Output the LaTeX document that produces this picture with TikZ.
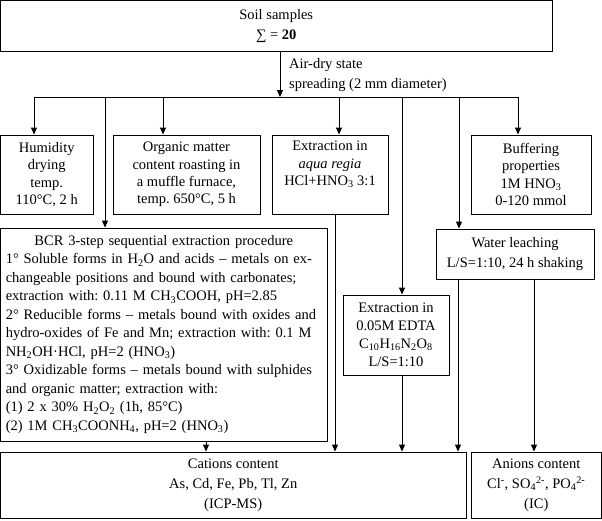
\documentclass[tikz,border=0pt]{standalone}
\usepackage{fontspec}
\setmainfont{Liberation Serif}
\usetikzlibrary{arrows.meta}
\frenchspacing
\begin{document}
\begin{tikzpicture}[x=1pt,y=-1pt,
  box/.style={draw, line width=0.9pt, inner sep=0pt, align=center, font=\fontsize{14.5}{17.3}\selectfont},
  arr/.style={line width=0.9pt, -{Triangle[length=7pt,width=6pt]}},
  ln/.style={line width=0.9pt}]
\useasboundingbox (0,0) rectangle (602,520);

\node[box, minimum width=551.5pt, minimum height=50.5pt, font=\fontsize{14.5}{20}\selectfont] (top) at (276.25,25.75) {Soil samples\\∑ = \textbf{20}};

\node[anchor=north west, inner sep=0pt, align=left, font=\fontsize{14.5}{20}\selectfont] (lbl) at (289,58) {Air-dry state\\spreading (2 mm diameter)};

\node[box, minimum width=92.5pt, minimum height=79pt] (hum) at (46.75,174.5) {Humidity\\drying\\temp.\\110°C, 2 h};
\node[box, minimum width=147pt, minimum height=79pt] (org) at (186.5,174.5) {Organic matter\\content roasting in\\a muffle furnace,\\temp. 650°C, 5 h};
\node[box, minimum width=116pt, minimum height=79pt] (aqua) at (330,174.5) {Extraction in\\\textit{aqua regia}\\HCl+HNO\textsubscript{3} 3:1\\\strut};
\node[box, minimum width=120pt, minimum height=79pt] (buf) at (531,174.5) {Buffering\\properties\\1M HNO\textsubscript{3}\\0-120 mmol};

\node[box, minimum width=326.5pt, minimum height=213pt, text width=316pt, align=left, font=\fontsize{14.5}{18.5}\selectfont] (bcr) at (163.75,334.5) {\makebox[316pt][c]{BCR 3-step sequential extraction procedure}\\
1° Soluble forms in H\textsubscript{2}O and acids – metals on ex-\\
changeable positions and bound with carbonates;\\
extraction with: 0.11 M CH\textsubscript{3}COOH, pH=2.85\\
2° Reducible forms – metals bound with oxides and\\
hydro-oxides of Fe and Mn; extraction with: 0.1 M\\
NH\textsubscript{2}OH·HCl, pH=2 (HNO\textsubscript{3})\\
3° Oxidizable forms – metals bound with sulphides\\
and organic matter; extraction with:\\
(1) 2 x 30\% H\textsubscript{2}O\textsubscript{2} (1h, 85°C)\\
(2) 1M CH\textsubscript{3}COONH\textsubscript{4}, pH=2 (HNO\textsubscript{3})};

\node[box, minimum width=158pt, minimum height=50pt, font=\fontsize{14.5}{19.5}\selectfont] (wat) at (515,254) {Water leaching\\L/S=1:10, 24 h shaking};
\node[box, minimum width=106pt, minimum height=80pt, font=\fontsize{14.5}{18}\selectfont] (edta) at (396,335) {Extraction in\\0.05M EDTA\\C\textsubscript{10}H\textsubscript{16}N\textsubscript{2}O\textsubscript{8}\\L/S=1:10};
\node[box, minimum width=465.5pt, minimum height=66pt, font=\fontsize{14.5}{20}\selectfont] (cat) at (233.25,485) {Cations content\\As, Cd, Fe, Pb, Tl, Zn\\(ICP-MS)};
\node[box, minimum width=130.5pt, minimum height=66pt, font=\fontsize{14.5}{20}\selectfont] (ani) at (536.25,485) {Anions content\\Cl\textsuperscript{-}, SO\textsubscript{4}\textsuperscript{2-}, PO\textsubscript{4}\textsuperscript{2-}\\(IC)};

\coordinate (hub) at (280,97);
\coordinate (bL) at (34,97);
\coordinate (bR) at (518,97);
\coordinate (d2) at (105,97);
\coordinate (d3) at (163,97);
\coordinate (d4) at (339,97);
\coordinate (d5) at (402,97);
\coordinate (d6) at (459,97);
\draw[arr] (top.south -| hub) -- (hub);
\draw[ln] (bL) -- (bR);
\draw[arr] (bL) -- (bL |- hum.north);
\draw[arr] (d2) -- (d2 |- bcr.north);
\draw[arr] (d3) -- (d3 |- org.north);
\draw[arr] (d4) -- (d4 |- aqua.north);
\draw[arr] (d5) -- (d5 |- edta.north);
\draw[arr] (d6) -- (d6 |- wat.north);
\draw[arr] (bR) -- (bR |- buf.north);

\coordinate (u1) at (206,0);
\coordinate (u2) at (335,0);
\coordinate (u3) at (402,0);
\coordinate (u4) at (458,0);
\coordinate (u5) at (534,0);
\draw[arr] (bcr.south -| u1) -- (u1 |- cat.north);
\draw[arr] (aqua.south -| u2) -- (u2 |- cat.north);
\draw[arr] (edta.south -| u3) -- (u3 |- cat.north);
\draw[arr] (wat.south -| u4) -- (u4 |- cat.north);
\draw[arr] (wat.south -| u5) -- (u5 |- ani.north);
\end{tikzpicture}
\end{document}
